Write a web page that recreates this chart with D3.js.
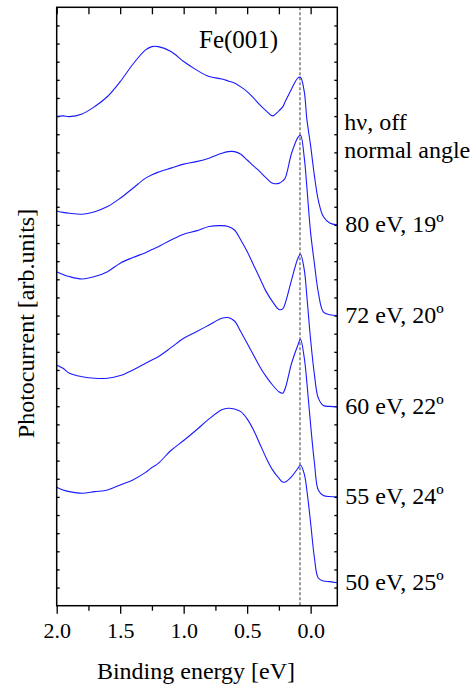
<!DOCTYPE html>
<html>
<head>
<meta charset="utf-8">
<script src="https://cdn.jsdelivr.net/npm/d3@7"></script>
<style>
  body { margin: 0; background: #fff; }
  text { font-family: "Liberation Serif", "Times New Roman", serif; fill: #000; }
</style>
</head>
<body>
<div id="chart"></div>
<script>
var svgWidth = 470;
var svgHeight = 686;

var margin = { top: 7.3, right: 132.7, bottom: 80.3, left: 56.7 };

var width = svgWidth - margin.left - margin.right;
var height = svgHeight - margin.top - margin.bottom;

// binding energy grid (eV), shared by all spectra
var energy = [2.0, 1.95, 1.9, 1.8, 1.7, 1.6, 1.5, 1.4, 1.3, 1.25, 1.2, 1.1, 1.0, 0.9, 0.8, 0.7,
  0.65, 0.6, 0.55, 0.5, 0.45, 0.4, 0.35, 0.3, 0.25, 0.22, 0.2, 0.15, 0.1, 0.08, 0.05, 0.03,
  0.0, -0.03, -0.06, -0.1, -0.15, -0.21];

// photocurrent, already offset (arb. units)
var s80 = [26.98, 27.01, 26.97, 27.12, 27.53, 28.08, 28.90, 29.86, 30.65, 30.83, 30.83, 30.56,
  30.01, 29.55, 29.18, 29.05, 28.94, 28.82, 28.61, 28.35, 28.00, 27.62, 27.29, 27.01, 27.29,
  27.51, 27.80, 28.50, 29.11, 29.14, 28.34, 26.85, 25.36, 23.70, 22.38, 21.46, 21.11, 21.00];
var s72 = [21.77, 21.69, 21.64, 21.59, 21.73, 22.01, 22.47, 23.02, 23.58, 23.76, 23.91, 24.13,
  24.35, 24.49, 24.68, 24.95, 25.04, 25.04, 24.90, 24.58, 24.25, 23.94, 23.59, 23.30, 23.29,
  23.43, 23.59, 24.95, 25.83, 25.94, 24.70, 23.10, 20.56, 18.85, 17.30, 16.20, 16.04, 16.00];
var s60 = [18.42, 18.27, 18.15, 18.02, 18.15, 18.42, 18.89, 19.20, 19.47, 19.64, 19.80, 20.17,
  20.49, 20.67, 20.91, 20.96, 20.91, 20.72, 20.17, 19.53, 18.79, 18.06, 17.32, 16.77, 16.34,
  16.37, 16.68, 17.97, 19.16, 19.38, 18.52, 17.08, 14.66, 12.73, 11.46, 11.04, 10.99, 10.98];
var s55 = [13.28, 13.09, 12.82, 12.63, 12.54, 12.54, 12.69, 13.00, 13.37, 13.55, 13.73, 14.23,
  14.75, 15.11, 15.48, 15.85, 15.89, 15.70, 15.11, 14.47, 13.83, 13.18, 12.63, 12.17, 11.80,
  11.72, 11.99, 13.37, 14.38, 14.69, 13.66, 12.34, 9.97, 7.87, 6.38, 6.08, 6.02, 6.01];
var s50 = [6.53, 6.38, 6.29, 6.20, 6.29, 6.38, 6.66, 6.93, 7.35, 7.62, 7.85, 8.56,
  9.11, 9.69, 10.30, 10.80, 10.89, 10.85, 10.70, 10.30, 9.69, 8.92, 8.15, 7.49, 7.03,
  6.82, 6.82, 7.12, 7.58, 7.76, 7.26, 6.38, 4.56, 2.63, 1.53, 1.36, 1.33, 1.27];

var spectra = [s80, s72, s60, s55, s50];
var spectraLabels = ["80 eV, 19º", "72 eV, 20º", "60 eV, 22º", "55 eV, 24º", "50 eV, 25º"];

var majorTicks = [2.0, 1.5, 1.0, 0.5, 0.0];
var minorTicks = [1.75, 1.25, 0.75, 0.25];
var fermiMark = 0.084;

var svg = d3.select("#chart")
  .append("svg")
  .attr("width", svgWidth)
  .attr("height", svgHeight);

var chartGroup = svg.append("g")
  .attr("transform", `translate(${margin.left}, ${margin.top})`);

var x = d3.scaleLinear().domain([2.0, -0.21]).range([0, width]);
var y = d3.scaleLinear().domain([0, 33]).range([height, 0]);

// bottom axis, major ticks with labels
var bottomMajor = chartGroup.append("g")
  .attr("transform", `translate(0, ${height})`)
  .call(d3.axisBottom(x).tickValues(majorTicks).tickSize(8).tickFormat(d3.format(".1f")));
bottomMajor.selectAll("text")
  .attr("y", 17)
  .attr("dy", "0.71em")
  .style("font-size", "22px");

// bottom axis, minor ticks
chartGroup.append("g")
  .attr("transform", `translate(0, ${height})`)
  .call(d3.axisBottom(x).tickValues(minorTicks).tickSize(5).tickFormat(""));

// top axis, ticks inward
chartGroup.append("g")
  .call(d3.axisTop(x).tickValues(majorTicks.concat(minorTicks)).tickSize(-7).tickFormat(""));

// left / right axes, short inward ticks
chartGroup.append("g")
  .call(d3.axisLeft(y).tickValues(d3.range(1, 33)).tickSize(-3).tickFormat(""));
chartGroup.append("g")
  .attr("transform", `translate(${width}, 0)`)
  .call(d3.axisRight(y).tickValues(d3.range(1, 33)).tickSize(-3).tickFormat(""));

chartGroup.selectAll(".domain").remove();
chartGroup.selectAll(".tick line")
  .attr("stroke", "#000")
  .attr("stroke-width", 1.3);

// dashed line at the peak
chartGroup.append("line")
  .attr("x1", x(fermiMark))
  .attr("x2", x(fermiMark))
  .attr("y1", 0)
  .attr("y2", height)
  .attr("stroke", "#666")
  .attr("stroke-width", 1.3)
  .attr("stroke-dasharray", "3,2");

// spectra
var line = d3.line()
  .x((d, i) => x(energy[i]))
  .y(d => y(d))
  .curve(d3.curveCatmullRom.alpha(0.5));

chartGroup.selectAll(".spectrum")
  .data(spectra)
  .enter()
  .append("path")
  .attr("class", "spectrum")
  .attr("d", line)
  .attr("fill", "none")
  .attr("stroke", "#1a1aff")
  .attr("stroke-width", 1.1);

// frame
chartGroup.append("rect")
  .attr("width", width)
  .attr("height", height)
  .attr("fill", "none")
  .attr("stroke", "#000")
  .attr("stroke-width", 1.5);

// labels at the right end of each spectrum
chartGroup.selectAll(".speclabel")
  .data(spectra)
  .enter()
  .append("text")
  .attr("class", "speclabel")
  .attr("x", width + 8)
  .attr("y", d => y(d[d.length - 1]) + 7)
  .style("font-size", "24px")
  .text((d, i) => spectraLabels[i]);

chartGroup.append("text")
  .attr("x", width + 7)
  .attr("y", 130 - margin.top)
  .style("font-size", "24px")
  .text("hν, off");
chartGroup.append("text")
  .attr("x", width + 7)
  .attr("y", 158 - margin.top)
  .style("font-size", "24px")
  .text("normal angle");

chartGroup.append("text")
  .attr("x", 199 - margin.left)
  .attr("y", 48 - margin.top)
  .style("font-size", "25px")
  .text("Fe(001)");

// axis titles
svg.append("text")
  .attr("x", 196)
  .attr("y", 679)
  .attr("text-anchor", "middle")
  .style("font-size", "24px")
  .text("Binding energy [eV]");

svg.append("text")
  .attr("transform", "translate(34, 323.5) rotate(-90)")
  .attr("text-anchor", "middle")
  .style("font-size", "24px")
  .text("Photocurrent [arb.units]");
</script>
</body>
</html>
